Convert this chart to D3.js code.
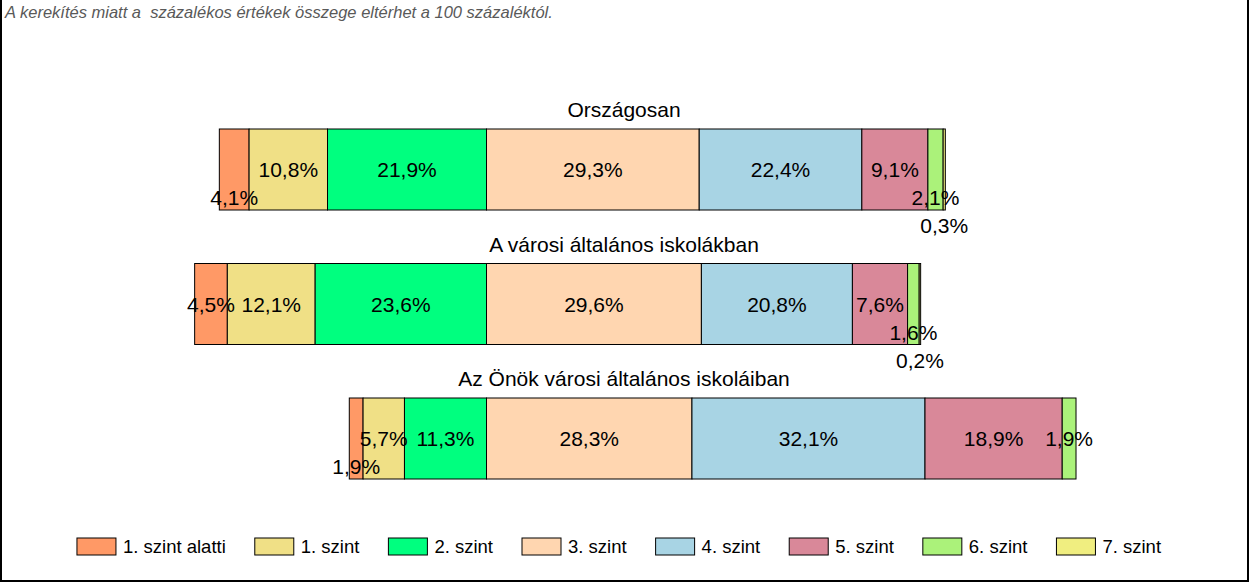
<!DOCTYPE html>
<html>
<head>
<meta charset="utf-8">
<script src="https://cdn.jsdelivr.net/npm/d3@7/dist/d3.min.js"></script>
<style>
  html, body { margin: 0; padding: 0; background: #fff; }
  svg { display: block; }
  text { font-family: "Liberation Sans", Arial, sans-serif; }
</style>
</head>
<body>
<svg id="chart" width="1250" height="583"></svg>
<script>
// ---- data ----
const groups = ["Országosan", "A városi általános iskolákban", "Az Önök városi általános iskoláiban"];
const levels = ["1. szint alatti", "1. szint", "2. szint", "3. szint", "4. szint", "5. szint", "6. szint", "7. szint"];
const countryValues = [4.1, 10.8, 21.9, 29.3, 22.4, 9.1, 2.1, 0.3];
const cityValues    = [4.5, 12.1, 23.6, 29.6, 20.8, 7.6, 1.6, 0.2];
const schoolValues  = [1.9, 5.7, 11.3, 28.3, 32.1, 18.9, 1.9, 0];
const levelColors = ["#FF9966", "#F0E086", "#00FF7F", "#FFD6B0", "#A8D4E4", "#D98899", "#ABF27A", "#F0EE80"];
const footnote = "A kerekítés miatt a  százalékos értékek összege eltérhet a 100 százaléktól.";

const seriesByGroup = [countryValues, cityValues, schoolValues];
const anchorLevels = 3; // bars are aligned at the boundary between 2. and 3. szint

// ---- layout ----
const W = 1250, H = 583;
const svg = d3.select("#chart");

const x = d3.scaleLinear().domain([-50, 100]).range([486.5 - 50 * 7.26, 486.5 + 100 * 7.26]);
const y = d3.scaleBand().domain(groups).range([129, 479]).paddingInner(1 - 81 / 134.5).paddingOuter(0);
const color = d3.scaleOrdinal().domain(levels).range(levelColors);
const fmt = v => d3.format(".1f")(v).replace(".", ",") + "%";

// frame
svg.append("rect").attr("x", 1).attr("y", -5).attr("width", 1247).attr("height", 586)
  .attr("fill", "none").attr("stroke", "#000").attr("stroke-width", 2);

// footnote
svg.append("text").attr("x", 5).attr("y", 18)
  .attr("font-size", 16.5).attr("font-style", "italic").attr("fill", "#595959")
  .attr("xml:space", "preserve").style("white-space", "pre")
  .text(footnote);

const labelFont = 21;
const rowStep = 28;

groups.forEach((g, gi) => {
  const vals = seriesByGroup[gi];
  const offset = d3.sum(vals.slice(0, anchorLevels));
  let cum = -offset;
  const segs = vals.map((v, i) => {
    const s = { level: levels[i], value: v, x0: cum, x1: cum + v };
    cum += v;
    return s;
  }).filter(s => s.value > 0);

  const top = y(g), bh = y.bandwidth();
  const gEl = svg.append("g");

  // title
  gEl.append("text").attr("x", 624).attr("y", top - 12)
    .attr("text-anchor", "middle").attr("font-size", 21).attr("fill", "#000").text(g);

  gEl.selectAll("rect.seg").data(segs).join("rect")
    .attr("class", "seg")
    .attr("x", d => x(d.x0)).attr("y", top)
    .attr("width", d => x(d.x1) - x(d.x0)).attr("height", bh)
    .attr("fill", d => color(d.level)).attr("stroke", "#000").attr("stroke-width", 1);

  // labels with simple collision avoidance (larger values first)
  const labels = gEl.selectAll("text.lbl").data(segs).join("text")
    .attr("class", "lbl")
    .attr("text-anchor", "middle").attr("font-size", labelFont).attr("fill", "#000")
    .attr("x", d => (x(d.x0) + x(d.x1)) / 2)
    .text(d => fmt(d.value));
  labels.each(function(d) { d.tw = this.getComputedTextLength(); d.cx = (x(d.x0) + x(d.x1)) / 2; });
  const placed = [];
  segs.slice().sort((a, b) => b.value - a.value).forEach(d => {
    let row = 0;
    while (placed.some(p => p.row === row && !(d.cx + d.tw / 2 < p.cx - p.tw / 2 - 2 || d.cx - d.tw / 2 > p.cx + p.tw / 2 + 2))) row++;
    d.row = row;
    placed.push(d);
  });
  labels.attr("y", d => top + bh / 2 + 7.5 + d.row * rowStep);
});

// legend
const legend = svg.append("g");
const legendStarts = [];
let lx = 0;
const items = legend.selectAll("g.item").data(levels).join("g").attr("class", "item");
items.append("rect").attr("width", 39).attr("height", 17).attr("y", 538)
  .attr("fill", d => color(d)).attr("stroke", "#000").attr("stroke-width", 1);
items.append("text").attr("x", 46).attr("y", 553).attr("font-size", 18.5).attr("fill", "#000").text(d => d);
items.each(function() {
  const tw = d3.select(this).select("text").node().getComputedTextLength();
  legendStarts.push(lx);
  lx += 46 + tw + 29;
});
const totalW = lx - 29;
const lx0 = 619 - totalW / 2;
items.attr("transform", (d, i) => `translate(${lx0 + legendStarts[i]},0)`);
</script>
</body>
</html>
